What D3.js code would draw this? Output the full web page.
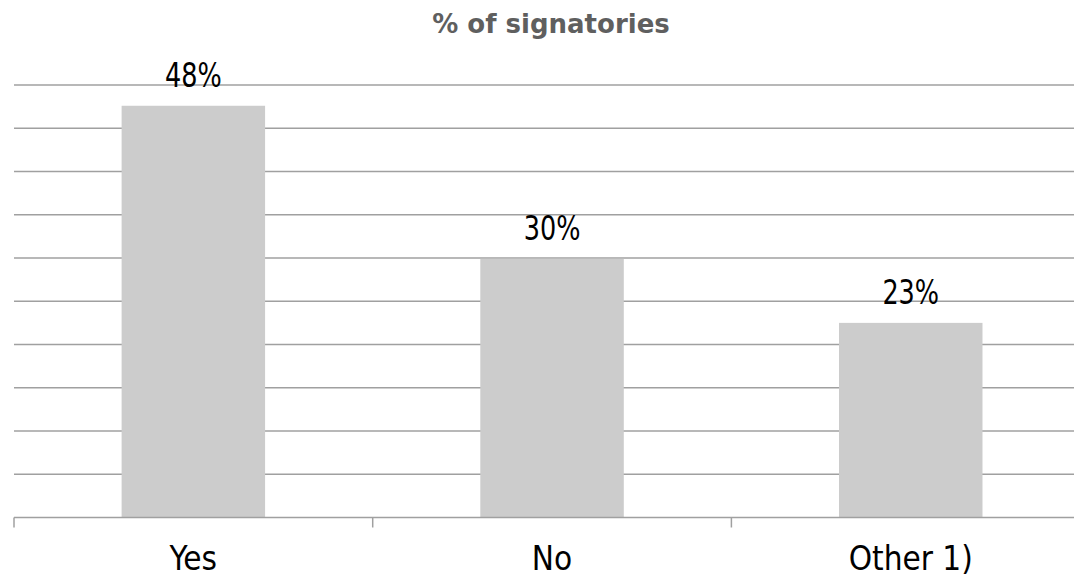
<!DOCTYPE html>
<html><head><meta charset="utf-8">
<script src="https://cdn.jsdelivr.net/npm/d3@7"></script>
<style>body{margin:0;background:#fff}svg{display:block}</style>
</head><body>
<svg id="c" width="1074" height="578"></svg>
<script>
const categories = ["Yes", "No", "Other 1)"];
const values = [47.6, 29.9, 22.5];
const yTicks = [0, 5, 10, 15, 20, 25, 30, 35, 40, 45, 50];
const title = "% of signatories";

(function () {
const svg = d3.select("#c");
const left = 14, plotTop = 85, bottom = 517.5;
const catW = 358.7;
const x = d3.scaleBand().domain(categories).range([left, left + catW * categories.length]).paddingInner(0.6).paddingOuter(0.3);
const y = d3.scaleLinear().domain([0, 50]).range([bottom, plotTop]);

// gridlines
svg.append("g").selectAll("line").data(yTicks.slice(1)).join("line")
  .attr("x1", left).attr("x2", 1074)
  .attr("y1", d => y(d)).attr("y2", d => y(d))
  .attr("stroke", "#a0a0a0").attr("stroke-width", 1.5);

// bars
svg.append("g").selectAll("rect").data(values).join("rect")
  .attr("x", (d, i) => x(categories[i]))
  .attr("width", x.bandwidth())
  .attr("y", d => y(d))
  .attr("height", d => y(0) - y(d))
  .attr("fill", "#cccccc");

// x axis
const ax = svg.append("g");
ax.append("line").attr("x1", left).attr("x2", 1074).attr("y1", bottom).attr("y2", bottom)
  .attr("stroke", "#a0a0a0").attr("stroke-width", 1.5);
ax.selectAll("line.t").data(categories).join("line").attr("class", "t")
  .attr("x1", (d, i) => left + catW * i).attr("x2", (d, i) => left + catW * i)
  .attr("y1", bottom).attr("y2", bottom + 10)
  .attr("stroke", "#a0a0a0").attr("stroke-width", 1.5);
ax.selectAll("text").data(categories).join("text")
  .attr("transform", d => `translate(${x(d) + x.bandwidth() / 2},570)`)
  .attr("text-anchor", "middle")
  .attr("font-family", "DejaVu Sans Condensed, DejaVu Sans")
  .attr("font-size", 33)
  .attr("fill", "#000")
  .text(d => d);

// data labels
svg.append("g").selectAll("text").data(values).join("text")
  .attr("transform", (d, i) => `translate(${x(categories[i]) + x.bandwidth() / 2},${y(d) - 19}) scale(0.86,1)`)
  .attr("text-anchor", "middle")
  .attr("font-family", "DejaVu Sans Condensed, DejaVu Sans")
  .attr("font-size", 33)
  .attr("fill", "#000")
  .text(d => Math.round(d) + "%");

// title
svg.append("text").attr("x", 551).attr("y", 33)
  .attr("text-anchor", "middle")
  .attr("font-family", "DejaVu Sans")
  .attr("font-weight", "bold")
  .attr("font-size", 26)
  .attr("fill", "#5f5f5f")
  .text(title);
})();
</script>
</body></html>
